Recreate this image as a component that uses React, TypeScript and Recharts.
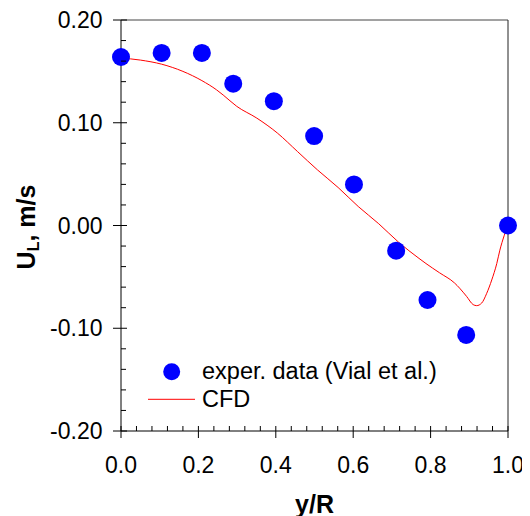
import { ComposedChart, Line, Scatter, XAxis, YAxis, ReferenceLine, Legend } from 'recharts';

// measured profile (Vial et al.)
const experX = [0, 0.105, 0.209, 0.29, 0.395, 0.499, 0.602, 0.711, 0.792, 0.892, 1.0];
const experY = [0.164, 0.168, 0.168, 0.138, 0.121, 0.087, 0.04, -0.0245, -0.0725, -0.1065, 0.0];

// CFD curve
const cfdX = [
  0, 0.05, 0.105, 0.16, 0.209, 0.247, 0.264, 0.299, 0.351, 0.404, 0.456, 0.508, 0.561, 0.613,
  0.666, 0.718, 0.77, 0.788, 0.823, 0.862, 0.875, 0.893, 0.91, 0.919, 0.932, 0.945, 0.958,
  0.971, 0.979, 0.99, 1.0,
];
const cfdY = [
  0.163, 0.161, 0.157, 0.15, 0.141, 0.132, 0.127, 0.116, 0.1045, 0.09, 0.072, 0.054, 0.037,
  0.0185, 0.0017, -0.0165, -0.032, -0.037, -0.046, -0.056, -0.061, -0.069, -0.077, -0.078,
  -0.0755, -0.066, -0.053, -0.037, -0.024, -0.01, 0.0,
];

const xMajor = [0, 0.2, 0.4, 0.6, 0.8, 1.0];
const xMinor = [0.04, 0.08, 0.12, 0.16, 0.24, 0.28, 0.32, 0.36, 0.44, 0.48, 0.52, 0.56, 0.64, 0.68, 0.72, 0.76, 0.84, 0.88, 0.92, 0.96];
const yMajor = [-0.2, -0.1, 0, 0.1, 0.2];
const yMinor = [-0.18, -0.16, -0.14, -0.12, -0.08, -0.06, -0.04, -0.02, 0.02, 0.04, 0.06, 0.08, 0.12, 0.14, 0.16, 0.18];

const exper = experX.map((x, i) => ({ x, y: experY[i] }));
const cfd = cfdX.map((x, i) => ({ x, y: cfdY[i] }));

const FONT = '"Liberation Sans", Arial, sans-serif';

const XTick = (props: any) => {
  const { x, y, payload } = props;
  const major = xMajor.includes(payload.value);
  return (
    <g>
      {major ? (
        <line x1={x} x2={x} y1={y - 5} y2={y + 7} stroke="#000" />
      ) : (
        <line x1={x} x2={x} y1={y - 5} y2={y} stroke="#000" />
      )}
      {major && (
        <text x={x} y={y + 42} textAnchor="middle" fontSize={23} fontFamily={FONT} fill="#000">
          {payload.value.toFixed(1)}
        </text>
      )}
    </g>
  );
};

const YTick = (props: any) => {
  const { x, y, payload } = props;
  const major = yMajor.includes(payload.value);
  return (
    <g>
      {major ? (
        <line x1={x - 8} x2={x + 6} y1={y} y2={y} stroke="#000" />
      ) : (
        <line x1={x} x2={x + 5} y1={y} y2={y} stroke="#000" />
      )}
      {major && (
        <text x={x - 18.5} y={y + 8} textAnchor="end" fontSize={23} fontFamily={FONT} fill="#000">
          {payload.value.toFixed(2)}
        </text>
      )}
    </g>
  );
};

const XTitle = (props: any) => {
  const { x, y, width } = props.viewBox;
  return (
    <text x={x + width / 2} y={y + 81.5} textAnchor="middle" fontSize={25} fontWeight="bold" fontFamily={FONT} fill="#000">
      y/R
    </text>
  );
};

const YTitle = (props: any) => {
  const { y, height } = props.viewBox;
  return (
    <text
      transform={`translate(27, ${y + height / 2 + 1.5}) rotate(-90)`}
      textAnchor="middle"
      fontSize={25}
      fontWeight="bold"
      fontFamily={FONT}
      fill="#000"
    >
      U
      <tspan fontSize={16} dy={4}>L</tspan>
      <tspan dy={-4}>, m/s</tspan>
    </text>
  );
};

const LegendBox = () => (
  <svg width={330} height={60}>
    <circle cx={33.7} cy={13.7} r={8.5} fill="#0000ff" />
    <text x={64} y={21.3} fontSize={23.5} fontFamily={FONT} fill="#000">
      exper. data (Vial et al.)
    </text>
    <line x1={10} x2={57} y1={41.3} y2={41.3} stroke="#ff0000" strokeWidth={1} />
    <text x={64} y={48.7} fontSize={23.5} fontFamily={FONT} fill="#000">
      CFD
    </text>
  </svg>
);

export default function App() {
  return (
    <div style={{ width: 522, height: 508 }}>
      <ComposedChart width={522} height={508} margin={{ top: 12, right: 22, left: 0, bottom: 25 }}>
        <XAxis
          type="number"
          dataKey="x"
          domain={[0, 1]}
          ticks={[...xMajor, ...xMinor].sort((a, b) => a - b)}
          interval={0}
          tickLine={false}
          tickSize={0}
          tickMargin={0}
          tick={<XTick />}
          axisLine={{ stroke: '#000' }}
          height={60}
          label={{ content: <XTitle /> }}
        />
        <YAxis
          type="number"
          dataKey="y"
          domain={[-0.2, 0.2]}
          ticks={[...yMajor, ...yMinor].sort((a, b) => a - b)}
          interval={0}
          tickLine={false}
          tickSize={0}
          tickMargin={0}
          tick={<YTick />}
          axisLine={{ stroke: '#000' }}
          width={113}
          label={{ content: <YTitle /> }}
        />
        <ReferenceLine y={0.2} stroke="#444" />
        <ReferenceLine x={1} stroke="#222" />
        <Line
          data={cfd}
          dataKey="y"
          type="monotone"
          stroke="#ff0000"
          strokeWidth={1}
          dot={false}
          isAnimationActive={false}
        />
        <Scatter
          data={exper}
          dataKey="y"
          fill="#0000ff"
          shape={(p: any) => <circle cx={p.cx} cy={p.cy} r={9} fill="#0000ff" />}
          isAnimationActive={false}
        />
        <Legend
          layout="horizontal"
          verticalAlign="middle"
          align="center"
          wrapperStyle={{ left: 130, top: 350, width: 330, height: 60 }}
          content={<LegendBox />}
        />
      </ComposedChart>
    </div>
  );
}
